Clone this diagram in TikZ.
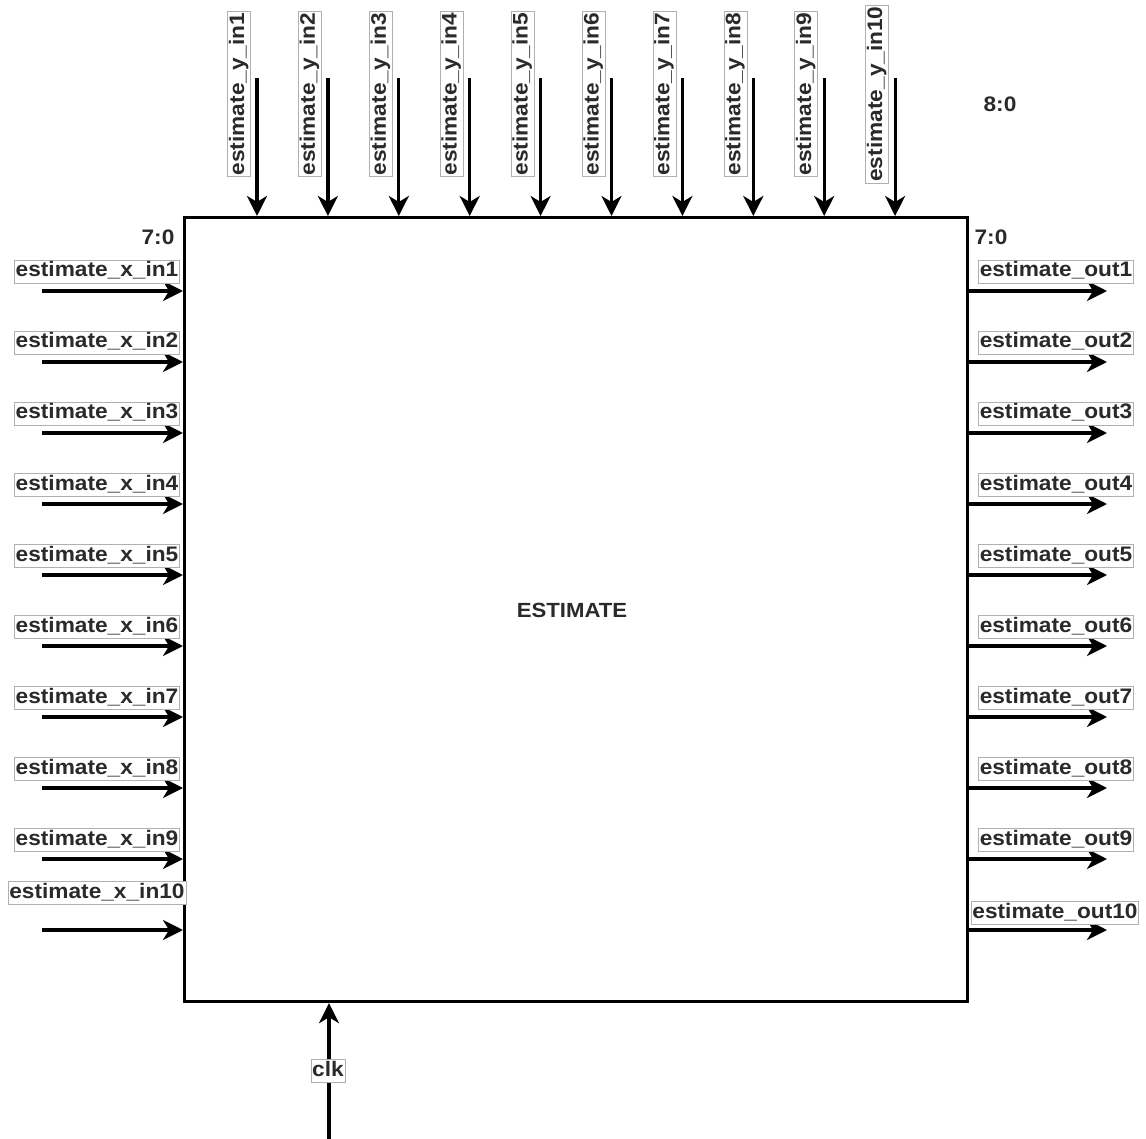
\documentclass[tikz,border=0pt]{standalone}
\usepackage{fontspec}
\setmainfont{Liberation Sans}[FakeStretch=1.08]
\usetikzlibrary{arrows.meta}
\definecolor{portText}{HTML}{2A2A2A}
\definecolor{portFrame}{HTML}{B0B0B0}

\begin{document}
\begin{tikzpicture}[
    x=1pt, y=-1pt,
    every node/.style={font=\fontsize{21}{24}\selectfont\bfseries, text=portText},
    portlabel/.style={draw=portFrame, line width=0.6pt, fill=white, inner xsep=1.2pt, inner ysep=1.5pt, text height=15pt, text depth=5pt},
    portwire/.style={line width=3.2pt, -{Stealth[length=20pt, width=20pt, inset=6pt]}}
]
\useasboundingbox (0,0) rectangle (1146,1139);

\node[draw, line width=3.2pt, minimum width=783pt, minimum height=784pt, inner sep=0pt, anchor=north west] (estimate) at (183,216) {};
\node[font=\fontsize{20.5}{22}\selectfont\bfseries] (title) at (572,610) {ESTIMATE};

% inputs on the left
\foreach \i [evaluate=\i as \py using 291+71*(\i-1)] in {1,...,10} {
    \coordinate (xsrc\i) at (42,\py);
    \draw[portwire] (xsrc\i) -- (xsrc\i -| estimate.west);
}
\foreach \i [evaluate=\i as \py using 272+71*(\i-1)] in {1,...,9}
    \node[portlabel] (xin\i) at (97,\py) {estimate\_x\_in\i};
\node[portlabel] (xin10) at (97,893) {estimate\_x\_in10};

% outputs on the right
\foreach \i [evaluate=\i as \py using 291+71*(\i-1)] in {1,...,10} {
    \coordinate (odst\i) at (1107,\py);
    \draw[portwire] (odst\i -| estimate.east) -- (odst\i);
}
\foreach \i [evaluate=\i as \py using 272+71*(\i-1)] in {1,...,9}
    \node[portlabel] (out\i) at (1056,\py) {estimate\_out\i};
\node[portlabel] (out10) at (1055,913) {estimate\_out10};

% inputs on top
\foreach \i [evaluate=\i as \px using 257+70.9*(\i-1)] in {1,...,10} {
    \coordinate (ysrc\i) at (\px,78);
    \draw[portwire] (ysrc\i) -- (ysrc\i |- estimate.north);
    \node[portlabel, rotate=90] (yin\i) at (\px-18,94) {estimate\_y\_in\i};
}

% clock
\coordinate (clksrc) at (329,1139);
\draw[portwire] (clksrc) -- (clksrc |- estimate.south);
\node[portlabel] (clk) at (328,1071) {clk};

% bus widths
\node (wxin) at (158,237) {7:0};
\node (wout) at (991,237) {7:0};
\node (wyin) at (1000,104) {8:0};
\end{tikzpicture}
\end{document}
